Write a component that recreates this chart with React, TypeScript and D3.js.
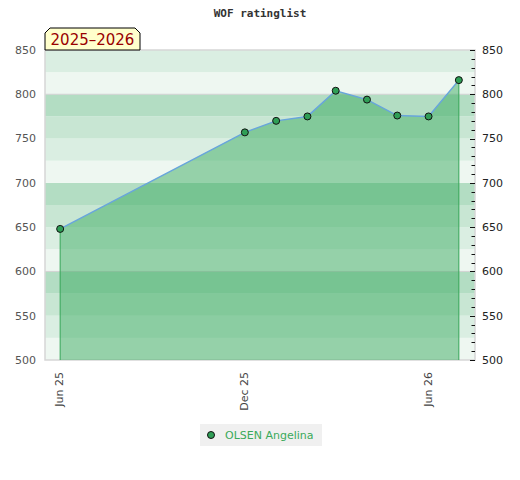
import * as d3 from "d3";
import { useEffect, useRef } from "react";

// rating list dates and ratings
const ratingDates = [
  "2025-06-01",
  "2025-12-01",
  "2026-01-01",
  "2026-02-01",
  "2026-03-01",
  "2026-04-01",
  "2026-05-01",
  "2026-06-01",
  "2026-07-01",
];
const ratings = [648, 757, 770, 775, 804, 794, 776, 775, 816];

const xTickDates = ["2025-06-01", "2025-12-01", "2026-06-01"];
const xTickLabels = ["Jun 25", "Dec 25", "Jun 26"];
const yTicks = [500, 550, 600, 650, 700, 750, 800, 850];
const gridValues = [600, 800];
const bandColors = ["#eef7f1", "#daeee2", "#c8e6d3", "#b3ddc3"];
const playerName = "OLSEN Angelina";
const seasonLabel = "2025\u20132026";
const chartTitle = "WOF ratinglist";

const parse = d3.timeParse("%Y-%m-%d");

export default function App() {
  const svgRef = useRef<SVGSVGElement>(null);

  useEffect(() => {
    if (!svgRef.current) return;
    const svg = d3.select(svgRef.current);
    svg.selectAll("*").remove();

    const left = 45;
    const right = 475;
    const top = 50;
    const bottom = 360;

    const x = d3
      .scaleTime()
      .domain([new Date(2025, 4, 17), new Date(2026, 6, 17)])
      .range([left, right]);
    const y = d3.scaleLinear().domain([500, 850]).range([bottom, top]);

    const data = ratingDates.map((d, i) => ({ date: parse(d) as Date, value: ratings[i] }));

    // title
    svg
      .append("text")
      .attr("x", 260)
      .attr("y", 17)
      .attr("text-anchor", "middle")
      .style("font-family", "'DejaVu Sans Mono', monospace")
      .style("font-weight", "bold")
      .style("font-size", "11px")
      .attr("fill", "#333")
      .text(chartTitle);

    // background bands, 25 points each
    const bandStarts = d3.range(500, 850, 25);
    svg
      .append("g")
      .selectAll("rect")
      .data(bandStarts)
      .enter()
      .append("rect")
      .attr("x", left)
      .attr("width", right - left)
      .attr("y", (d) => y(d + 25))
      .attr("height", (d) => y(d) - y(d + 25))
      .attr("fill", (d) => bandColors[((d - 500) / 25) % 4]);

    // grid lines
    svg
      .append("g")
      .selectAll("line")
      .data(gridValues)
      .enter()
      .append("line")
      .attr("x1", left)
      .attr("x2", right)
      .attr("y1", (d) => y(d))
      .attr("y2", (d) => y(d))
      .attr("stroke", "#d2d2d2")
      .attr("stroke-width", 1);

    // plot frame
    svg
      .append("rect")
      .attr("x", left)
      .attr("y", top)
      .attr("width", right - left)
      .attr("height", bottom - top)
      .attr("fill", "none")
      .attr("stroke", "#d6d6d6")
      .attr("stroke-width", 1.5);

    // area under the rating line
    const area = d3
      .area<(typeof data)[0]>()
      .x((d) => x(d.date))
      .y0(y(500))
      .y1((d) => y(d.value));
    svg
      .append("path")
      .datum(data)
      .attr("d", area)
      .attr("fill", "#3cab61")
      .attr("fill-opacity", 0.5);

    // vertical edges at first and last point
    const ends = [data[0], data[data.length - 1]];
    svg
      .append("g")
      .selectAll("line")
      .data(ends)
      .enter()
      .append("line")
      .attr("x1", (d) => x(d.date))
      .attr("x2", (d) => x(d.date))
      .attr("y1", (d) => y(d.value))
      .attr("y2", y(500))
      .attr("stroke", "#36a558")
      .attr("stroke-width", 1);

    const line = d3
      .line<(typeof data)[0]>()
      .x((d) => x(d.date))
      .y((d) => y(d.value));
    svg
      .append("path")
      .datum(data)
      .attr("d", line)
      .attr("fill", "none")
      .attr("stroke", "#68a5dc")
      .attr("stroke-width", 1.5);

    svg
      .append("g")
      .selectAll("circle")
      .data(data)
      .enter()
      .append("circle")
      .attr("cx", (d) => x(d.date))
      .attr("cy", (d) => y(d.value))
      .attr("r", 3.5)
      .attr("fill", "#2f9e56")
      .attr("stroke", "#111")
      .attr("stroke-width", 1);

    // left axis labels
    svg
      .append("g")
      .selectAll("text")
      .data(yTicks)
      .enter()
      .append("text")
      .attr("x", 36)
      .attr("y", (d) => y(d))
      .attr("dy", "0.35em")
      .attr("text-anchor", "end")
      .style("font-family", "'DejaVu Sans', sans-serif")
      .style("font-size", "11px")
      .attr("fill", "#555")
      .text((d) => d);

    // right axis: minor ticks every 10, labels every 50
    const rightTicks = d3.range(500, 851, 10);
    svg
      .append("g")
      .selectAll("line")
      .data(rightTicks)
      .enter()
      .append("line")
      .attr("x1", (d) => (d % 50 === 0 ? right - 5 : right - 3.5))
      .attr("x2", right)
      .attr("y1", (d) => Math.round(y(d)) + 0.5)
      .attr("y2", (d) => Math.round(y(d)) + 0.5)
      .attr("stroke", "#111")
      .attr("stroke-width", 1);
    svg
      .append("g")
      .selectAll("text")
      .data(yTicks)
      .enter()
      .append("text")
      .attr("x", 482)
      .attr("y", (d) => y(d))
      .attr("dy", "0.35em")
      .attr("text-anchor", "start")
      .style("font-family", "'DejaVu Sans', sans-serif")
      .style("font-size", "11px")
      .attr("fill", "#222")
      .text((d) => d);

    // bottom axis labels, rotated
    svg
      .append("g")
      .selectAll("text")
      .data(xTickDates)
      .enter()
      .append("text")
      .attr("transform", (d) => `translate(${x(parse(d) as Date)},372) rotate(-90)`)
      .attr("dy", "0.3em")
      .attr("text-anchor", "end")
      .style("font-family", "'DejaVu Sans', sans-serif")
      .style("font-size", "11px")
      .attr("fill", "#444")
      .text((d, i) => xTickLabels[i]);

    // season label box
    const bx = 45;
    const by = 28;
    const bw = 95;
    const bh = 22;
    const c = 5;
    svg
      .append("path")
      .attr(
        "d",
        `M${bx},${by + bh} L${bx},${by + c} L${bx + c},${by} L${bx + bw - c},${by} L${bx + bw},${by + c} L${bx + bw},${by + bh} Z`,
      )
      .attr("fill", "#ffffcc")
      .attr("stroke", "#000")
      .attr("stroke-width", 1);
    svg
      .append("text")
      .attr("x", bx + bw / 2)
      .attr("y", by + 17)
      .attr("text-anchor", "middle")
      .style("font-family", "'DejaVu Sans', sans-serif")
      .style("font-size", "15px")
      .attr("fill", "#990000")
      .text(seasonLabel);

    // legend
    const legend = svg.append("g").attr("transform", "translate(200,424)");
    legend.append("rect").attr("width", 122).attr("height", 22).attr("fill", "#f0f0f0");
    legend
      .append("circle")
      .attr("cx", 11)
      .attr("cy", 11)
      .attr("r", 3.5)
      .attr("fill", "#2f9e56")
      .attr("stroke", "#111")
      .attr("stroke-width", 1);
    legend
      .append("text")
      .attr("x", 25)
      .attr("y", 11)
      .attr("dy", "0.35em")
      .style("font-family", "'DejaVu Sans', sans-serif")
      .style("font-size", "11px")
      .attr("fill", "#3aaa5a")
      .text(playerName);
  }, []);

  return (
    <svg
      ref={svgRef}
      width={520}
      height={480}
      style={{ position: "absolute", left: 0, top: 0, background: "#fff" }}
    />
  );
}
